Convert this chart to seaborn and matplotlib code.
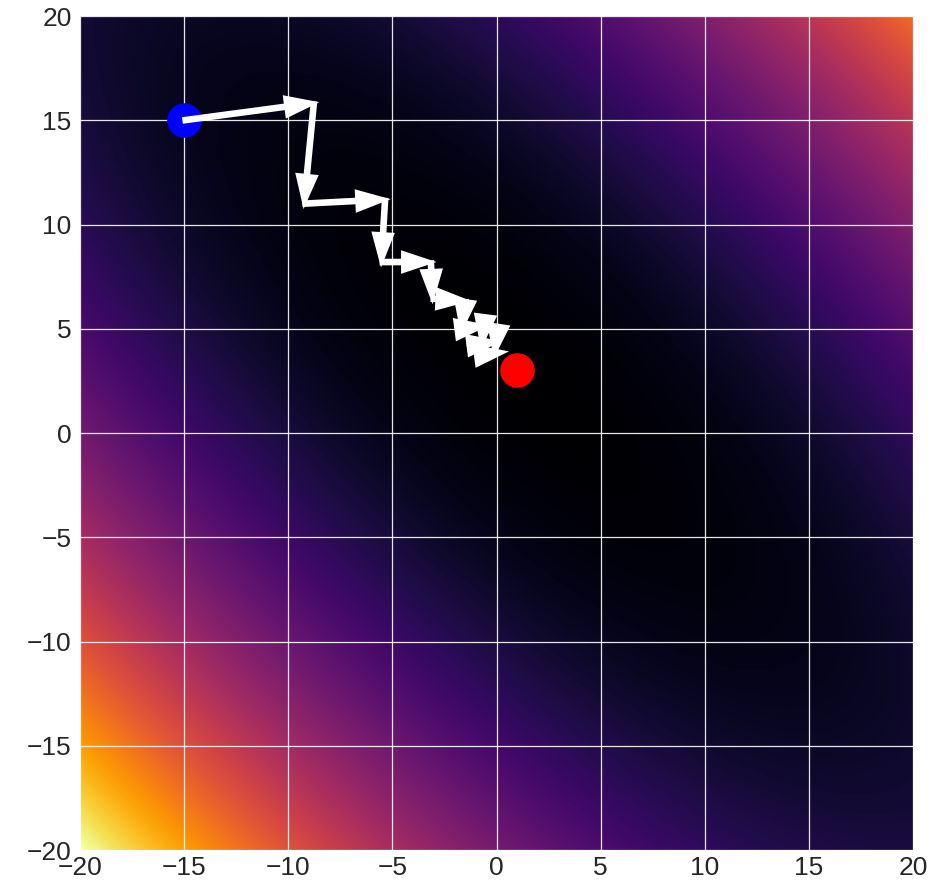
import numpy as np
import matplotlib
matplotlib.use("Agg")
import matplotlib.pyplot as plt
import seaborn as sns

# Objective surface: f = (x - x0)^2 + (y - y0)^2 + c * (x - x0) * (y - y0)
minimum_x = 1.0
minimum_y = 3.0
cross_coef = 1.6
axis_limits = [-20, 20]
tick_values = [-20, -15, -10, -5, 0, 5, 10, 15, 20]

# Descent path
path_x = [-15.0, -8.77, -9.24, -5.35, -5.53, -3.15, -3.08, -1.5, -1.68, -0.6, -0.71, -0.02, -0.10, 0.34]
path_y = [15.0, 15.83, 11.0, 11.2, 8.2, 8.2, 6.44, 6.35, 5.0, 5.14, 4.28, 4.37, 3.82, 3.88]

start_x, start_y = [-15.0], [15.0]
end_x, end_y = [1.0], [3.0]

sns.set_theme(style="darkgrid")
plt.rcParams['font.family'] = ['Liberation Sans', 'DejaVu Sans']

fig = plt.figure(figsize=(9.32, 8.86), dpi=100)
ax = fig.add_axes([80 / 932, 1 - 850 / 886, 833 / 932, 834 / 886])

gx = np.linspace(axis_limits[0], axis_limits[1], 500)
gy = np.linspace(axis_limits[0], axis_limits[1], 500)
X, Y = np.meshgrid(gx, gy)
Z = (X - minimum_x) ** 2 + (Y - minimum_y) ** 2 + cross_coef * (X - minimum_x) * (Y - minimum_y)
ax.imshow(Z, extent=[axis_limits[0], axis_limits[1], axis_limits[0], axis_limits[1]],
          origin='lower', cmap='inferno', aspect='auto', zorder=0, interpolation='bilinear')

sns.scatterplot(x=start_x, y=start_y, color='#0000ff', s=620, linewidth=0, zorder=3, ax=ax)

for i in range(len(path_x) - 1):
    ax.arrow(path_x[i], path_y[i], path_x[i + 1] - path_x[i], path_y[i + 1] - path_y[i],
             width=0.15, head_width=0.9, head_length=1.35, length_includes_head=True,
             fc='white', ec='white', lw=2.5, zorder=4)

sns.scatterplot(x=end_x, y=end_y, color='#ff0000', s=620, linewidth=0, zorder=5, ax=ax)

ax.set_xlim(axis_limits)
ax.set_ylim(axis_limits)
ax.set_xticks(tick_values)
ax.set_yticks(tick_values)
ax.grid(True, color='white', linewidth=0.9, alpha=0.9)
ax.tick_params(axis='x', labelsize=19, pad=4, length=0, colors='#262626')
ax.tick_params(axis='y', labelsize=19, pad=6, length=0, colors='#262626')
for s in ax.spines.values():
    s.set_visible(False)

fig.savefig('out.png', dpi=100)
